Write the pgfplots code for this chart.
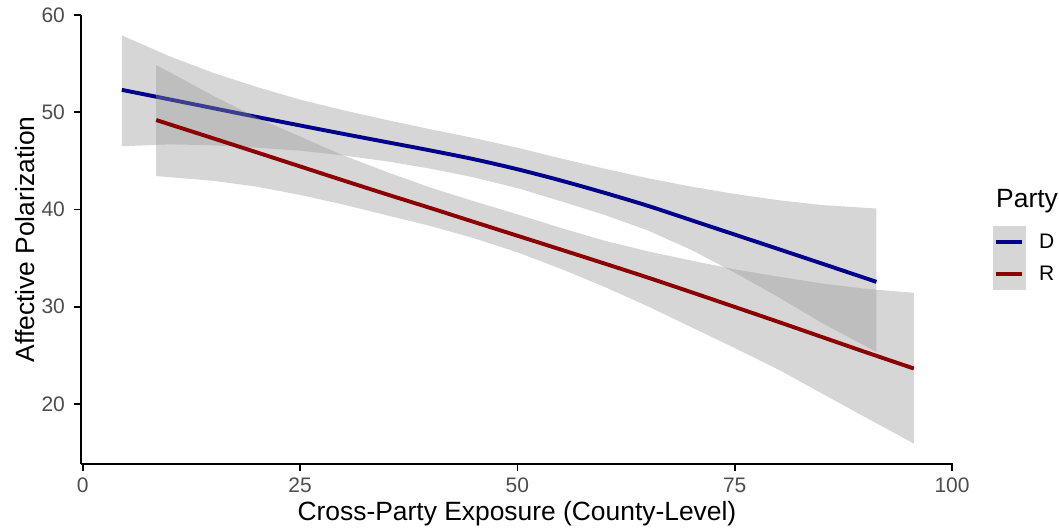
\documentclass[border=0pt]{standalone}
\usepackage{fontspec}
\setmainfont{Liberation Sans}
\usepackage{pgfplots}
\usepackage{pgfplotstable}
\pgfplotsset{compat=1.18}

\definecolor{dblue}{RGB}{0,0,139}
\definecolor{dred}{RGB}{139,0,0}
\definecolor{bandgray}{RGB}{153,153,153}
\definecolor{tickgray}{RGB}{77,77,77}
\definecolor{keygray}{RGB}{214,214,214}

% Democrats: smoothed fit
\pgfplotstableread{
x     fit
4.5   52.30
10    51.32
15    50.42
20    49.52
25    48.64
30    47.77
35    46.92
40    46.07
45    45.17
50    44.14
55    42.98
60    41.72
65    40.38
70    38.90
75    37.42
80    35.94
85    34.45
91.3  32.56
}\fitD

% Democrats: confidence band outline (upper edge, then lower edge back)
\pgfplotstableread{
x     y
4.5   57.90
10    55.75
15    54.05
20    52.60
25    51.30
30    50.20
35    49.20
40    48.25
45    47.35
50    46.35
55    45.25
60    44.20
65    43.22
70    42.35
75    41.60
80    40.96
85    40.46
91.3  40.10
91.3  25.36
85    28.35
80    31.00
75    33.50
70    35.85
65    37.85
60    39.45
55    40.85
50    42.20
45    43.30
40    44.20
35    44.95
30    45.55
25    46.05
20    46.35
15    46.60
10    46.70
4.5   46.50
}\bandD

% Republicans: smoothed fit
\pgfplotstableread{
x     fit
8.45  49.20
15    47.32
20    45.88
25    44.43
30    42.98
35    41.55
40    40.15
45    38.72
50    37.30
55    35.88
60    34.45
65    33.00
70    31.50
75    29.98
80    28.45
85    26.90
90    25.35
95.6  23.65
}\fitR

% Republicans: confidence band outline (upper edge, then lower edge back)
\pgfplotstableread{
x     y
8.45  54.86
15    51.70
20    49.45
25    47.50
30    45.55
35    43.85
40    42.25
45    40.85
50    39.50
55    38.10
60    36.80
65    35.70
70    34.75
75    33.85
80    33.10
85    32.40
90    31.85
95.6  31.43
95.6  15.94
90    18.65
85    21.10
80    23.55
75    25.75
70    27.90
65    30.05
60    32.05
55    33.90
50    35.60
45    37.05
40    38.30
35    39.40
30    40.50
25    41.50
20    42.35
15    42.95
8.45  43.44
}\bandR

\begin{document}
\begin{tikzpicture}
\begin{axis}[
  name=ax, at={(0pt,0pt)}, anchor=south west,
  scale only axis, width=871.9pt, height=449.2pt,
  xmin=-0.2, xmax=100.1, ymin=13.83, ymax=60.02,
  axis lines=left,
  axis line style={-, black, line width=1.6pt},
  xtick={0,25,50,75,100}, ytick={20,30,40,50,60},
  tick align=outside, major tick length=6.6pt,
  tick style={black, line width=1.6pt},
  ticklabel style={font=\fontsize{21}{25}\selectfont, text=tickgray},
  xticklabel style={yshift=-4pt},
  yticklabel style={xshift=-6pt},
  /pgf/number format/assume math mode=true,
  xlabel={Cross-Party Exposure (County-Level)},
  ylabel={Affective Polarization},
  xlabel style={at={(rel axis cs:0.5,0)}, anchor=center, yshift=-50pt,
    font=\fontsize{26.4}{30}\selectfont},
  ylabel style={at={(rel axis cs:0,0.5)}, anchor=center, yshift=56pt,
    font=\fontsize{26.4}{30}\selectfont},
  legend style={at={(rel axis cs:1.04599,0.53050)}, anchor=north west,
    draw=none, fill=none, inner sep=0pt, outer sep=0pt, row sep=0pt,
    font=\fontsize{21}{25}\selectfont,
    nodes={inner sep=0pt},
    /tikz/every odd column/.style={column sep=13pt}},
  legend cell align=left,
  legend image code/.code={%
    \fill[keygray, draw=none] (0pt,-16pt) rectangle (33pt,16pt);
    \draw (3pt,0pt) -- (29pt,0pt);},
  clip=false,
]
% Democrats: band, then fit
\addplot[fill=bandgray, fill opacity=0.4, draw=none, forget plot]
  table[x=x, y=y] {\bandD} -- cycle;
\addplot[dblue, line width=3.9pt, smooth] table[x=x, y=fit] {\fitD};
\addlegendentry{D}
% Republicans: band, then fit
\addplot[fill=bandgray, fill opacity=0.4, draw=none, forget plot]
  table[x=x, y=y] {\bandR} -- cycle;
\addplot[dred, line width=3.9pt, smooth] table[x=x, y=fit] {\fitR};
\addlegendentry{R}
\end{axis}
\node[anchor=west, font=\fontsize{26.4}{30}\selectfont, inner sep=0pt] at (915pt,263pt) {Party};
\pgfresetboundingbox
\path[use as bounding box] (-81pt,-63pt) rectangle (978pt,464pt);
\end{tikzpicture}
\end{document}
